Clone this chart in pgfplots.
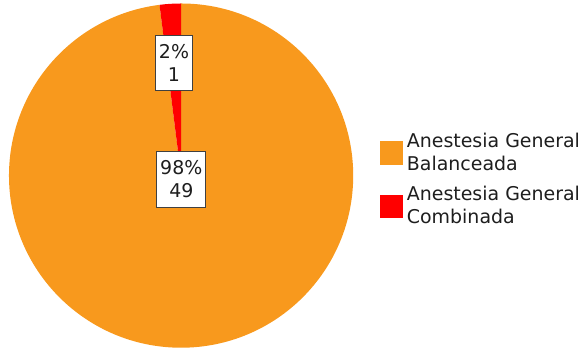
\documentclass[border=0pt]{standalone}
\usepackage{pgfplots}
\usepackage{pgfplotstable}
\pgfplotsset{compat=1.18}
\usepackage{fontspec}
\setmainfont{DejaVu Sans}

\definecolor{pieorange}{RGB}{248,153,29}
\definecolor{piered}{RGB}{255,0,0}
\definecolor{txt}{RGB}{30,30,30}

\tikzset{
  lbl/.style={draw=black!75, line width=0.6pt, fill=white, align=center,
    inner xsep=2.6pt, inner ysep=7pt, text=txt,
    font=\fontsize{14.25}{17.25}\selectfont},
}

% number of cases per technique
\pgfplotstableread{
tecnica value
Balanceada 49
Combinada 1
}\anestesia

\begin{document}
\begin{tikzpicture}
\pgfplotstablegetelem{0}{value}\of\anestesia \let\va\pgfplotsretval
\pgfplotstablegetelem{1}{value}\of\anestesia \let\vb\pgfplotsretval
\pgfmathsetmacro\total{\va+\vb}
\pgfmathsetmacro\fa{\va/\total}
\pgfmathsetmacro\fb{\vb/\total}
% slices run clockwise from the top
\pgfmathsetmacro\endA{90-360*\fa}
\pgfmathsetmacro\midA{90-180*\fa}
\pgfmathsetmacro\endB{\endA-360*\fb}
\pgfmathsetmacro\midB{\endA-180*\fb}
\pgfmathtruncatemacro\pctA{round(100*\fa)}
\pgfmathtruncatemacro\pctB{round(100*\fb)}
\def\R{129.375pt}
\begin{axis}[
  x=0.75pt, y=0.75pt,
  xmin=0, xmax=580, ymin=0, ymax=349,
  hide axis, clip=false,
  legend style={
    at={(0.6562,0.4845)}, anchor=west,
    draw=none, fill=none, inner sep=0pt, outer sep=0pt,
    row sep=10.6pt, column sep=3.5pt,
    cells={anchor=west, align=left},
    nodes={inner sep=0pt, font=\fontsize{14.25}{17.25}\selectfont, text=txt},
  },
]
\path (axis cs:0,0) rectangle (axis cs:580,349);
\fill[pieorange] (axis cs:181.5,173) -- ++(90:\R)
  arc[start angle=90, end angle=\endA, radius=\R] -- cycle;
\fill[piered] (axis cs:181.5,173) -- ++(\endA:\R)
  arc[start angle=\endA, end angle=\endB, radius=\R] -- cycle;
\node[lbl, shift={(\midB:85pt)}] at (axis cs:181.5,173) {\pctB\%\\\vb};
\node[lbl, shift={(\midA:2.6pt)}] at (axis cs:181.5,173) {\pctA\%\\\va};

\addlegendimage{legend image code/.code={\fill[pieorange] (0pt,-8.6pt) rectangle (16.5pt,8.6pt);}}
\addlegendentry{Anestesia General\\Balanceada}
\addlegendimage{legend image code/.code={\fill[piered] (0pt,-8.6pt) rectangle (16.5pt,8.6pt);}}
\addlegendentry{Anestesia General\\Combinada}
\end{axis}
\end{tikzpicture}
\end{document}
